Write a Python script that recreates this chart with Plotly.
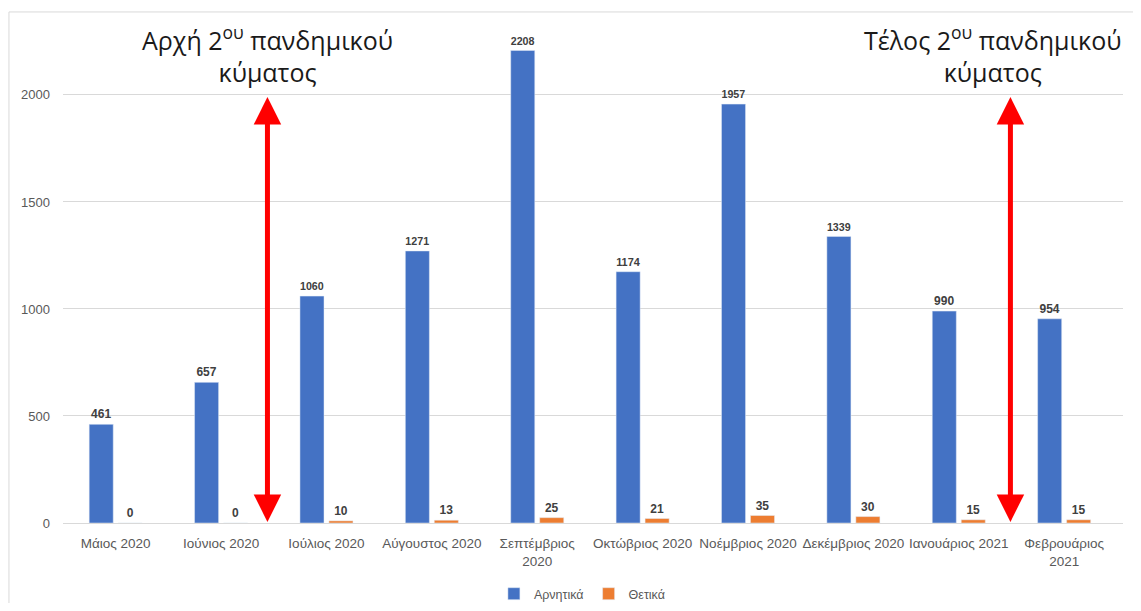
import plotly.graph_objects as go

months = ['Μάιος 2020', 'Ιούνιος 2020', 'Ιούλιος 2020', 'Αύγουστος 2020', 'Σεπτέμβριος<br>2020',
          'Οκτώβριος 2020', 'Νοέμβριος 2020', 'Δεκέμβριος 2020', 'Ιανουάριος 2021', 'Φεβρουάριος<br>2021']
negative = [461, 657, 1060, 1271, 2208, 1174, 1957, 1339, 990, 954]
positive = [0, 0, 10, 13, 25, 21, 35, 30, 15, 15]

label_font = dict(family='Liberation Sans', size=12, color='#404040')

fig = go.Figure()
fig.add_trace(go.Bar(x=months, y=negative, name='Αρνητικά', marker_color='#4472C4',
                     text=['<b>%d</b>' % v for v in negative], textposition='outside',
                     textfont=label_font, cliponaxis=False))
fig.add_trace(go.Bar(x=months, y=positive, name='Θετικά', marker_color='#ED7D31',
                     text=['<b>%d</b>' % v for v in positive], textposition='outside',
                     textfont=label_font, cliponaxis=False))

# red double-headed arrows marking start / end of the second wave
for xpos in [1.44, 8.49]:
    fig.add_annotation(x=xpos, y=1990, ax=xpos, ay=-2, xref='x', yref='y', axref='x', ayref='y',
                       showarrow=True, arrowhead=2, startarrowhead=2, arrowside='end+start',
                       arrowwidth=5, arrowsize=1.1, startarrowsize=1.1, arrowcolor='#FF0000', text='')

title_font = dict(family='Open Sans', size=25, color='#1a1a1a')
fig.add_annotation(x=1.44, y=2190, xref='x', yref='y', showarrow=False, font=title_font,
                   text='Αρχή 2<sup>ου</sup> πανδημικού<br>κύματος', align='center')
fig.add_annotation(x=8.32, y=2190, xref='x', yref='y', showarrow=False, font=title_font,
                   text='Τέλος 2<sup>ου</sup> πανδημικού<br>κύματος', align='center')

# outer frame
fig.add_shape(type='rect', xref='paper', yref='paper', x0=-0.051, x1=1.05, y0=-0.3, y1=1.016,
              line=dict(color='#d9d9d9', width=1), layer='below')

fig.update_layout(
    width=1125, height=595,
    margin=dict(l=55, r=10, t=12, b=80),
    plot_bgcolor='white', paper_bgcolor='white',
    barmode='group', bargap=0.45, bargroupgap=0.17,
    font=dict(family='Liberation Sans', color='#595959', size=12),
    xaxis=dict(tickfont=dict(size=13.5, color='#595959'), showline=True, linecolor='#d9d9d9',
               ticks='outside', ticklen=8, tickcolor='rgba(0,0,0,0)', automargin=False),
    yaxis=dict(range=[0, 2350], dtick=500, gridcolor='#d9d9d9', zeroline=False,
               tickfont=dict(size=13, color='#595959'), ticklabelstandoff=12, automargin=False),
    legend=dict(orientation='h', x=0.49, xanchor='center', xref='paper',
                y=0.015, yanchor='middle', yref='container',
                font=dict(size=12.5, color='#595959'), itemwidth=30),
)

fig.write_html('out.html')
